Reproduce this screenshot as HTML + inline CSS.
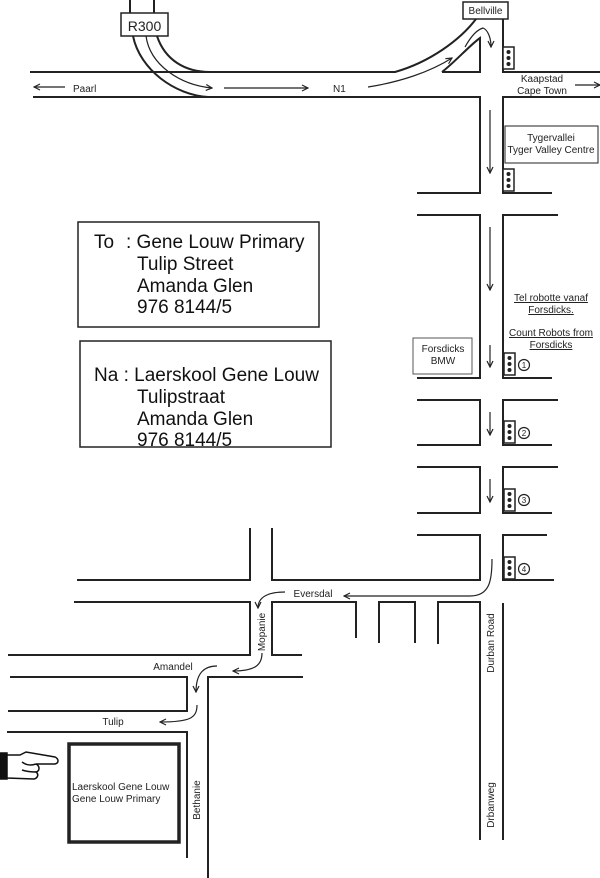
<!DOCTYPE html>
<html><head><meta charset="utf-8"><style>
body{margin:0;background:#fff}
svg{display:block;font-family:"Liberation Sans",Arial,sans-serif}
</style></head><body>
<svg width="600" height="878" viewBox="0 0 600 878" xmlns="http://www.w3.org/2000/svg">
<defs>
<marker id="a" markerWidth="8" markerHeight="8" refX="7" refY="4" orient="auto" markerUnits="userSpaceOnUse"><path d="M1,1 L7,4 L1,7" fill="none" stroke="#222" stroke-width="1.2"/></marker>
<g id="tl"><rect x="0" y="0" width="11" height="22" fill="#fff" stroke="#222" stroke-width="1.5"/><circle cx="5.5" cy="5" r="2" fill="#222"/><circle cx="5.5" cy="11" r="2" fill="#222"/><circle cx="5.5" cy="17" r="2" fill="#222"/></g>
</defs>
<g fill="none" stroke="#222" stroke-width="2">
<path d="M130,0V13M154,0V13"/>
<rect x="121" y="13" width="47" height="23" stroke-width="1.5"/>
<path d="M30,72H395C430,62 460,40 476,19"/>
<path d="M157,36C165,60 185,72 210,72"/>
<path d="M133,36C140,70 175,95 208,97"/>
<path d="M33,97H480V193H417"/>
<path d="M442,72H480V38C470,45 455,62 442,72"/>
<path d="M503,19V72H600M600,97H503V193H552"/>
<path d="M417,215H480V378H417M558,215H503V378H552"/>
<path d="M417,400H480V445H417M558,400H503V445H552"/>
<path d="M417,467H480V513H417M558,467H503V513H552"/>
<path d="M417,535H480V580H272V528M250,528V580H77"/>
<path d="M547,535H503V580H554"/>
<path d="M74,602H250V655H8M302,655H272V602H356V638M379,643V602H415V643M438,644V602H480V840M503,603V840"/>
<path d="M10,677H187V711H8M303,677H208V878"/>
<path d="M7,732H187V858"/>
</g>
<g fill="none" stroke="#222" stroke-width="1.2" marker-end="url(#a)">
<path d="M65,87H34"/>
<path d="M224,88H308"/>
<path d="M146,36C150,65 180,85 212,88"/>
<path d="M368,87C400,82 430,72 452,58"/>
<path d="M465,47C470,38 476,30 483,28C488,30 491,38 491,47"/>
<path d="M490,110V173"/>
<path d="M575,85H600"/>
<path d="M490,227V290"/>
<path d="M490,345V367"/>
<path d="M490,412V435"/>
<path d="M490,479V502"/>
<path d="M492,559C492,580 490,596 470,596H344"/>
<path d="M285,592C270,592 258,596 258,608"/>
<path d="M262,653C262,665 255,671 233,671"/>
<path d="M217,666C205,666 196,672 196,692"/>
<path d="M197,705C197,718 190,722 160,722"/>
</g>
<rect x="463" y="2" width="45" height="17" fill="#fff" stroke="#222" stroke-width="1.5"/>
<rect x="505" y="126" width="93" height="37" fill="#fff" stroke="#222" stroke-width="1"/>
<rect x="413" y="338" width="59" height="36" fill="#fff" stroke="#555" stroke-width="1"/>
<rect x="78" y="222" width="241" height="105" fill="none" stroke="#222" stroke-width="1.5"/>
<rect x="80" y="341" width="251" height="106" fill="none" stroke="#222" stroke-width="1.5"/>
<rect x="69" y="744" width="110" height="98" fill="none" stroke="#222" stroke-width="3.5"/>
<use href="#tl" x="503" y="47"/><use href="#tl" x="503" y="169"/>
<use href="#tl" x="504" y="353"/><use href="#tl" x="504" y="421"/><use href="#tl" x="504" y="489"/><use href="#tl" x="504" y="557"/>
<g fill="none" stroke="#222" stroke-width="1.2">
<circle cx="524" cy="365" r="5.5"/><circle cx="524" cy="433" r="5.5"/><circle cx="524" cy="500" r="5.5"/><circle cx="524" cy="569" r="5.5"/>
</g>
<g font-size="8" text-anchor="middle" fill="#222"><text x="524" y="368">1</text><text x="524" y="436">2</text><text x="524" y="503">3</text><text x="524" y="572">4</text></g>
<g fill="#222" font-size="10">
<text x="144.5" y="31" font-size="14" text-anchor="middle">R300</text>
<text x="485.5" y="14" text-anchor="middle">Bellville</text>
<text x="73" y="92">Paarl</text>
<text x="333" y="92">N1</text>
<text x="542" y="82" text-anchor="middle">Kaapstad</text>
<text x="542" y="94" text-anchor="middle">Cape Town</text>
<text x="551" y="141" text-anchor="middle">Tygervallei</text>
<text x="551" y="153" text-anchor="middle">Tyger Valley Centre</text>
<text x="443" y="352" text-anchor="middle">Forsdicks</text>
<text x="443" y="364" text-anchor="middle">BMW</text>
<g text-anchor="middle" text-decoration="underline">
<text x="551" y="301">Tel robotte vanaf</text><text x="551" y="313">Forsdicks.</text>
<text x="551" y="336">Count Robots from</text><text x="551" y="348">Forsdicks</text>
</g>
<text x="313" y="597" text-anchor="middle">Eversdal</text>
<text x="173" y="670" text-anchor="middle">Amandel</text>
<text x="113" y="725" text-anchor="middle">Tulip</text>
<text x="72" y="790">Laerskool Gene Louw</text>
<text x="72" y="802">Gene Louw Primary</text>
<text transform="translate(265,632) rotate(-90)" text-anchor="middle">Mopanie</text>
<text transform="translate(200,800) rotate(-90)" text-anchor="middle">Bethanie</text>
<text transform="translate(494,643) rotate(-90)" text-anchor="middle">Durban Road</text>
<text transform="translate(494,805) rotate(-90)" text-anchor="middle">Drbanweg</text>
</g>
<g fill="#111" font-size="19">
<text x="94" y="248">To</text><text x="126" y="248">: Gene Louw Primary</text>
<text x="137" y="270">Tulip Street</text>
<text x="137" y="292">Amanda Glen</text>
<text x="137" y="313">976 8144/5</text>
<text x="94" y="381">Na : Laerskool Gene Louw</text>
<text x="137" y="403">Tulipstraat</text>
<text x="137" y="425">Amanda Glen</text>
<text x="137" y="446">976 8144/5</text>
</g>
<g stroke="#111" stroke-width="1.5" fill="#fff">
<rect x="0" y="753" width="7" height="26" fill="#111"/>
<path d="M7,755 L20,755 L26,752 L55,757 C59,759 59,763 55,764 L36,764 C40,766 40,771 36,772 C39,774 38,778 34,779 L7,778 Z"/>
<path d="M22,762 C26,765 30,766 36,764 M22,770 C28,772 32,772 36,772" fill="none"/>
</g>
</svg>
</body></html>
